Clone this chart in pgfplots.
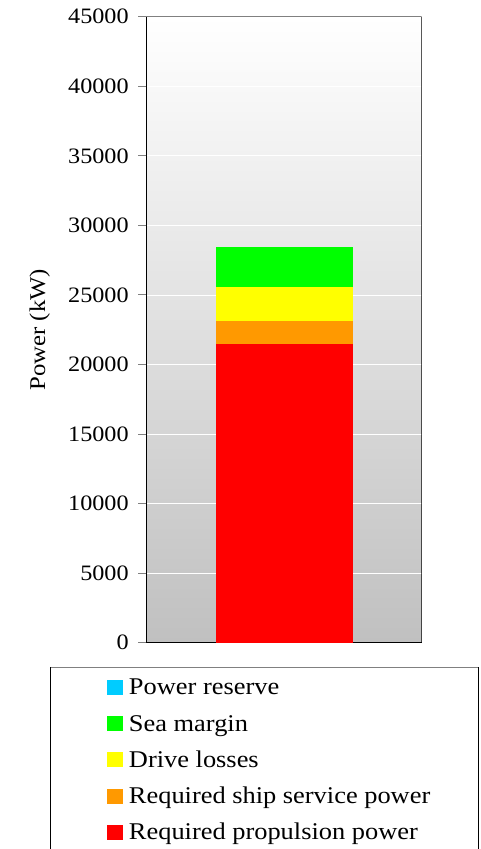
\documentclass[border=0pt]{standalone}
\usepackage{fontspec}
\setmainfont[FakeStretch=1.1]{Liberation Serif}
\usepackage{pgfplots}
\pgfplotsset{compat=1.18}

\definecolor{reservecol}{HTML}{00CCFF}
\definecolor{seacol}{HTML}{00FF00}
\definecolor{drivecol}{HTML}{FFFF00}
\definecolor{shipcol}{HTML}{FF9900}
\definecolor{propcol}{HTML}{FF0000}
\definecolor{bggray}{RGB}{192,192,192}

\begin{document}
\begin{tikzpicture}
\begin{axis}[
  scale only axis,
  width=275pt, height=626pt,
  xmin=-1, xmax=1,
  ymin=0, ymax=45000,
  ybar stacked,
  bar width=137pt,
  xtick=\empty,
  ytick={0,5000,...,45000},
  scaled y ticks=false,
  /pgf/number format/fixed,
  /pgf/number format/1000 sep={},
  /pgf/number format/assume math mode=true,
  tick label style={font=\fontsize{22}{22}\selectfont},
  yticklabel style={xshift=-6pt},
  axis x line*=bottom,
  axis y line*=left,
  axis line style={black, line width=1pt},
  tick align=outside,
  major tick length=8.5pt,
  tick style={gray, line width=1pt},
  ymajorgrids,
  grid style={white, line width=0.8pt},
  axis background/.style={shade, top color=white, bottom color=bggray},
  ylabel={Power (kW)},
  ylabel style={font=\fontsize{22.5}{22.5}\selectfont,
    at={(axis description cs:-0.389,0.5)}, anchor=center},
  reverse legend,
  legend cell align=left,
  legend style={draw=none, fill=none, inner sep=0pt,
    at={(axis description cs:-0.1433,-0.0422)}, anchor=north west,
    font=\fontsize{24}{24}\selectfont,
    row sep=0pt, column sep=6pt,
    nodes={inner sep=0pt, text height=25.4pt, text depth=10.9pt}},
  legend image code/.code={\fill[#1] (0pt,-7.25pt) rectangle (15.5pt,7.75pt);},
]
\addplot[fill=propcol, draw=none] coordinates {(0,21500)};
\addplot[fill=shipcol, draw=none] coordinates {(0,1650)};
\addplot[fill=drivecol, draw=none] coordinates {(0,2420)};
\addplot[fill=seacol, draw=none] coordinates {(0,2880)};
\addplot[fill=reservecol, draw=none] coordinates {(0,0)};
\legend{Required propulsion power, Required ship service power, Drive losses, Sea margin, Power reserve}
% remaining frame sides of the plot area
\draw[gray, line width=1pt] (rel axis cs:0,1) -- (rel axis cs:1,1);
\draw[black, line width=1pt] (rel axis cs:1,0) -- (rel axis cs:1,1);
\end{axis}
% legend frame
\draw[gray, line width=1pt] (-95.7pt,-24.3pt) -- (331.3pt,-24.3pt);
\draw[black, line width=1pt] (-95.7pt,-24.3pt) -- (-95.7pt,-207pt);
\draw[black, line width=1pt] (331.3pt,-24.3pt) -- (331.3pt,-207pt);
\pgfresetboundingbox
\useasboundingbox (-146.7pt,-206.3pt) rectangle (334.3pt,642.7pt);
\end{tikzpicture}
\end{document}
